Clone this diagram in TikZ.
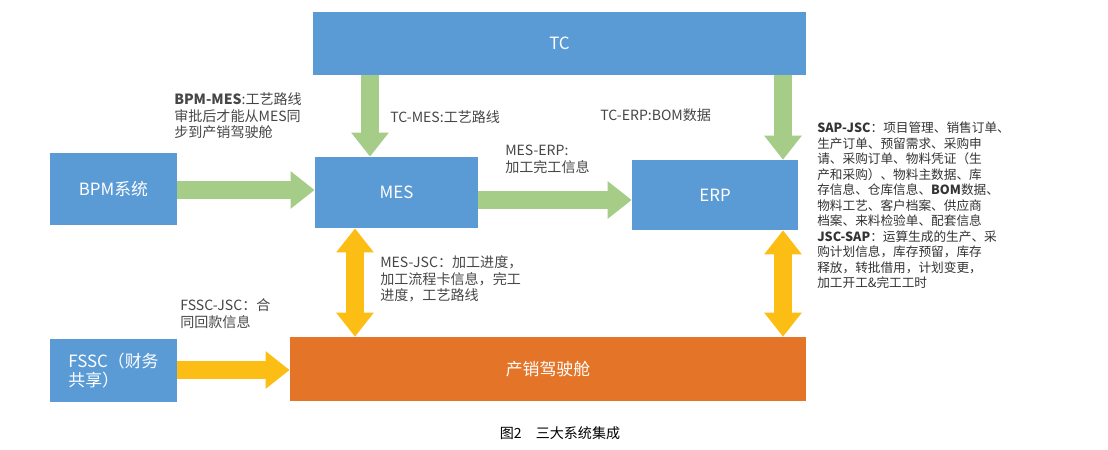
\documentclass[tikz,border=0pt]{standalone}
\usepackage{fontspec}
\setmainfont{Noto Sans CJK SC}
\usetikzlibrary{arrows.meta, positioning}
\definecolor{sysblue}{RGB}{91,155,213}
\definecolor{jscorange}{RGB}{228,116,40}
\definecolor{flowgreen}{RGB}{165,205,135}
\definecolor{flowyellow}{RGB}{252,190,20}
\definecolor{labelgray}{RGB}{70,70,70}
\tikzset{
  sysbox/.style={fill=sysblue, text=white, font=\large, inner sep=0pt},
  flowarrow/.style={line width=0.45cm, flowgreen, -{Triangle[width=0.9cm, length=0.6cm]}},
  syncarrow/.style={line width=0.45cm, flowyellow, {Triangle[width=0.9cm, length=0.6cm]}-{Triangle[width=0.9cm, length=0.6cm]}},
  note/.style={text=labelgray, font=\normalsize, align=left, anchor=north west, inner sep=0pt}
}
\begin{document}
\begin{tikzpicture}[x=0.025cm, y=-0.025cm]
\useasboundingbox (0,0) rectangle (1108,449);

% --- systems ---
\node[sysbox, minimum width=12.33cm, minimum height=1.58cm] (tc) at (559.5,43.5) {TC};
\node[sysbox, minimum width=3.18cm, minimum height=1.8cm] (bpm) at (113.5,189) {BPM系统};
\node[sysbox, minimum width=4.08cm, minimum height=1.78cm] (mes) at (396.5,192.5) {MES};
\node[sysbox, minimum width=4.15cm, minimum height=1.75cm] (erp) at (715,195) {ERP};
\node[sysbox, minimum width=3.18cm, minimum height=1.58cm, align=left] (fssc) at (113.5,370.5) {FSSC（财务\\共享）};
\node[sysbox, fill=jscorange, minimum width=12.9cm, minimum height=1.6cm] (jsc) at (548,369) {产销驾驶舱};

% --- flows ---
\coordinate (tcmes) at (370,75);
\coordinate (tcerp) at (783,75);
\draw[flowarrow] (tcmes) -- (tcmes |- mes.north);
\draw[flowarrow] (tcerp) -- (tcerp |- erp.north);
\draw[flowarrow] (bpm.east |- 0,190) -- (mes.west |- 0,190);
\draw[flowarrow] (mes.east |- 0,200) -- (erp.west |- 0,200);
\draw[flowarrow, flowyellow] (fssc.east |- 0,370) -- (jsc.west |- 0,370);
\coordinate (mesjsc) at (355,0);
\coordinate (erpjsc) at (783,0);
\draw[syncarrow] (mesjsc |- mes.south) -- (mesjsc |- jsc.north);
\draw[syncarrow] (erpjsc |- erp.south) -- (erpjsc |- jsc.north);

% --- labels ---
\node[note] (lbpm) at (174,92) {\textbf{BPM-MES}:工艺路线\\审批后才能从MES同\\步到产销驾驶舱};
\node[note] (ltcmes) at (390,110) {TC-MES:工艺路线};
\node[note] (ltcerp) at (600,108) {TC-ERP:BOM数据};
\node[note] (lmeserp) at (505,145) {MES-ERP:\\加工完工信息};
\node[note] (lmesjsc) at (380,255) {MES-JSC：加工进度，\\加工流程卡信息，完工\\进度，工艺路线};
\node[note] (lfssc) at (180,298) {FSSC-JSC：合\\同回款信息};
\node[note, font=\small, text=black!80] (lsap) at (817,122) {\textbf{SAP-JSC}：项目管理、销售订单、\\生产订单、预留需求、采购申\\请、采购订单、物料凭证（生\\产和采购）、物料主数据、库\\存信息、仓库信息、\textbf{BOM}数据、\\物料工艺、客户档案、供应商\\档案、来料检验单、配套信息\\\textbf{JSC-SAP}：运算生成的生产、采\\购计划信息，库存预留，库存\\释放，转批借用，计划变更，\\加工开工\&完工工时};
\node[font=\normalsize] (caption) at (560,433) {图2\quad 三大系统集成};
\end{tikzpicture}
\end{document}
